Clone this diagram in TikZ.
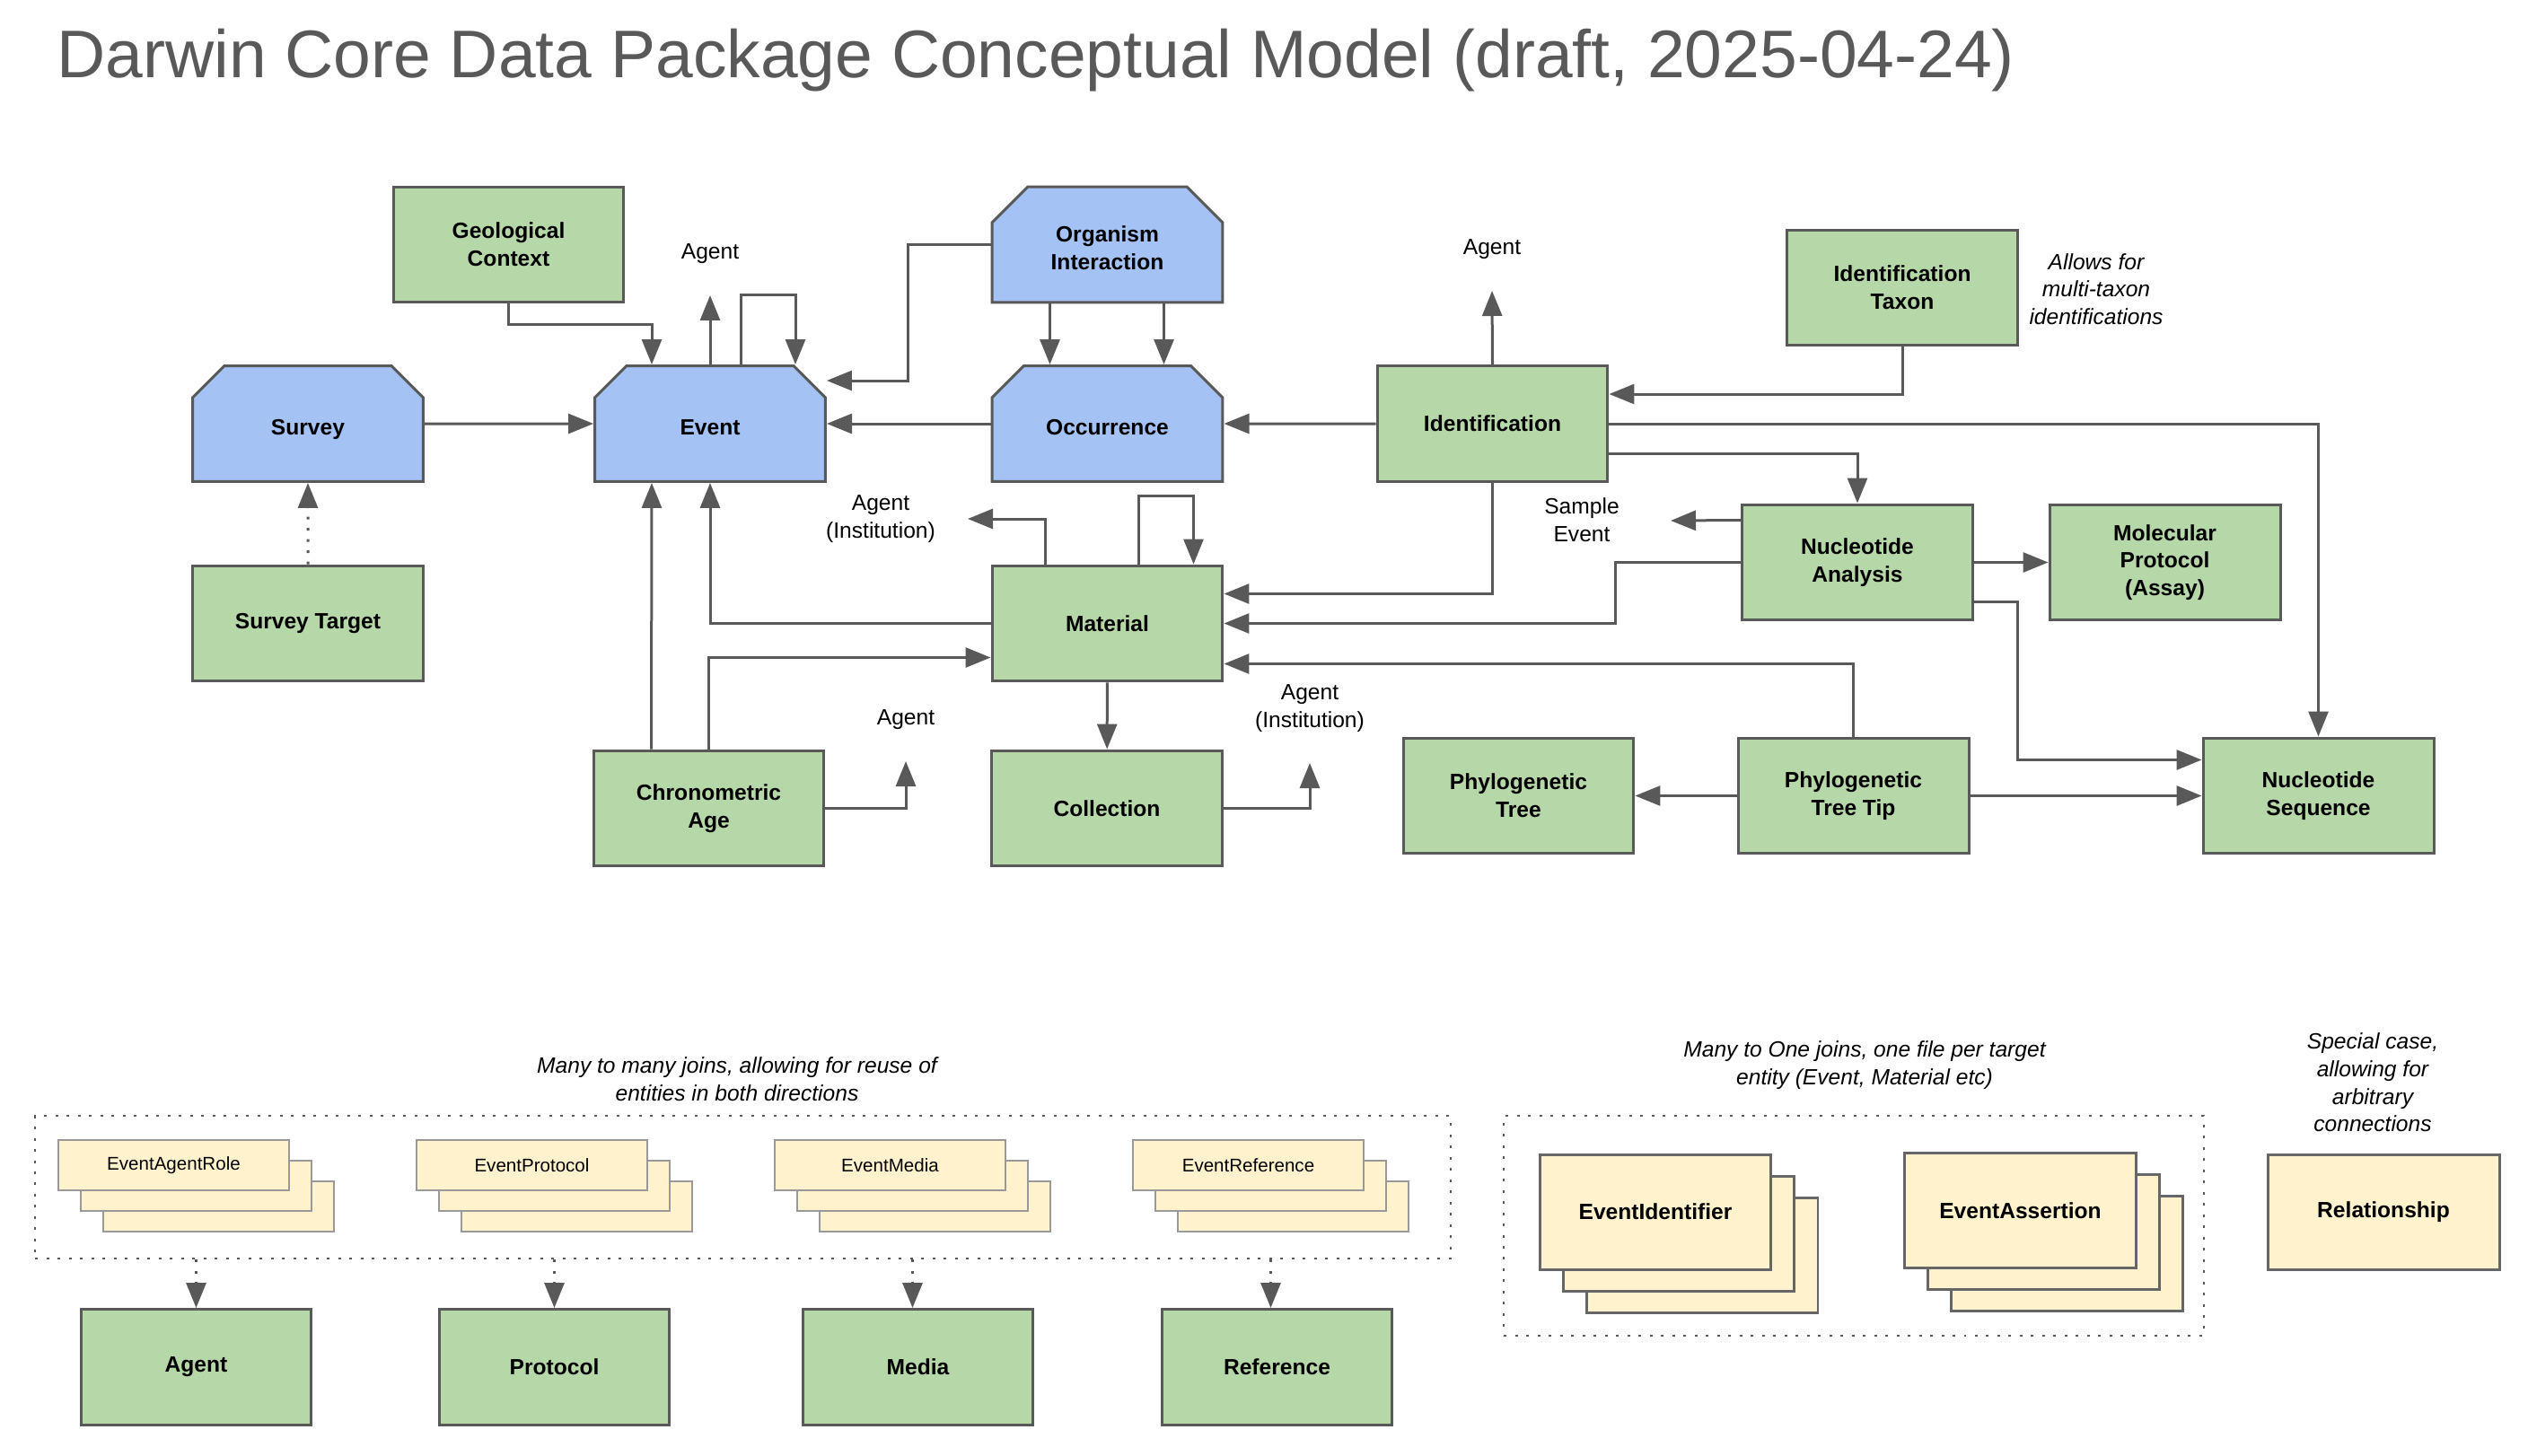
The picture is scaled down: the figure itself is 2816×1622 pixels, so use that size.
\documentclass[tikz,border=0pt]{standalone}
\usepackage{fontspec}
\setmainfont{Liberation Sans}
\usetikzlibrary{arrows.meta,shapes.misc,calc}
\definecolor{boxgreen}{HTML}{B6D7A8}
\definecolor{boxblue}{HTML}{A4C2F4}
\definecolor{boxyellow}{HTML}{FFF2CC}
\definecolor{linegray}{HTML}{595959}
\definecolor{cardgray}{HTML}{999999}
\definecolor{stackgray}{HTML}{666666}
% text of the snipped boxes sits a little lower
\newcommand{\corelabel}[1]{\raisebox{-0.12cm}[\height][\depth]{\begin{tabular}{@{}c@{}}#1\end{tabular}}}
\tikzset{
  entity/.style={draw=linegray, line width=0.06cm, fill=boxgreen, inner sep=0pt,
    minimum width=5.14cm, minimum height=2.58cm, align=center,
    font=\fontsize{14}{17.5}\selectfont\bfseries},
  core/.style={entity, fill=boxblue, chamfered rectangle,
    chamfered rectangle corners={north west,north east},
    chamfered rectangle sep=0.4cm},
  lbl/.style={inner sep=0pt, align=center, font=\fontsize{14}{17.5}\selectfont},
  note/.style={lbl, font=\fontsize{14}{17.5}\selectfont\itshape},
  card/.style={draw=cardgray, line width=0.05cm, fill=boxyellow, inner sep=0pt,
    minimum width=5.14cm, minimum height=1.12cm, font=\fontsize{11.7}{14}\selectfont},
  sheet/.style={draw=stackgray, line width=0.06cm, fill=boxyellow, inner sep=0pt,
    minimum width=5.16cm, minimum height=2.56cm, font=\fontsize{14}{17.5}\selectfont\bfseries},
  dotbox/.style={draw=linegray, line width=0.045cm, dash pattern=on 0.06cm off 0.19cm},
  arr/.style={draw=linegray, line width=0.06cm, -{Triangle[length=0.56cm,width=0.44cm]}},
  dotarr/.style={arr, dash pattern=on 0.06cm off 0.19cm}
}
\begin{document}
\begin{tikzpicture}[x=0.02cm,y=-0.02cm]
\useasboundingbox (0,0) rectangle (2816,1622);
%Title
\node[anchor=base west, inner sep=0pt, text=linegray, font=\fontsize{42.7}{50}\selectfont] (title) at (63,87) {Darwin Core Data Package Conceptual Model (draft, 2025-04-24)};
%Core classes (blue)
\node[core] (survey) at (343,472) {\corelabel{Survey}};
\node[core] (event) at (791,472) {\corelabel{Event}};
\node[core] (orgint) at (1233.5,272.5) {\corelabel{Organism\\Interaction}};
\node[core] (occ) at (1233.5,472) {\corelabel{Occurrence}};
%Other classes (green)
\node[entity] (geo) at (566.5,272.5) {Geological\\Context};
\node[entity] (target) at (343,694.5) {Survey Target};
\node[entity] (ident) at (1662.5,472) {Identification};
\node[entity] (idtaxon) at (2119,320.5) {Identification\\Taxon};
\node[entity] (material) at (1233.5,694.5) {Material};
\node[entity] (nucana) at (2069,626.5) {Nucleotide\\Analysis};
\node[entity] (molprot) at (2411.5,626.5) {Molecular\\Protocol\\(Assay)};
\node[entity] (chrono) at (789.5,900.5) {Chronometric\\Age};
\node[entity] (collection) at (1233,900.5) {Collection};
\node[entity] (phytree) at (1691.5,886.5) {Phylogenetic\\Tree};
\node[entity] (phytip) at (2064.5,886.5) {Phylogenetic\\Tree Tip};
\node[entity] (nucseq) at (2582.5,886.5) {Nucleotide\\Sequence};
%Loose labels
\node[lbl] (agentE) at (791,283) {Agent};
\node[lbl] (agentI) at (1662,278) {Agent};
\node[lbl] (agentM) at (981,578) {Agent\\(Institution)};
\node[lbl] (sample) at (1762,579) {Sample\\Event};
\node[lbl] (agentC) at (1009,802) {Agent};
\node[lbl] (agentCol) at (1459,789) {Agent\\(Institution)};
\node[note] (taxnote) at (2335,322) {Allows for\\multi-taxon\\identifications};
\coordinate (agentEtip) at (791,329);
\coordinate (agentItip) at (1662,324);
\coordinate (agentMtip) at (1078,578);
\coordinate (sampletip) at (1861,580);
\coordinate (agentCtip) at (1009,848);
\coordinate (agentColtip) at (1459,850);
%Arrows around Event
\draw[arr] (geo.south) |- ($(event.north)+(-65,-45)$) -- ($(event.north)+(-65,0)$);
\draw[arr] (event.north) -- (agentEtip);
\draw[arr] ($(event.north)+(34,0)$) -- ++(0,-78) -| ($(event.north)+(95,0)$);
\draw[arr] (survey) -- (event);
\draw[dotarr] (target) -- (survey);
\draw[arr] (orgint.west) -| (1011,424) -- (event.east |- 1011,424);
\draw[arr] (occ) -- (event);
\draw[arr] ($(orgint.south)+(-64,0)$) -- ($(occ.north)+(-64,0)$);
\draw[arr] ($(orgint.south)+(63,0)$) -- ($(occ.north)+(63,0)$);
%Arrows around Identification
\draw[arr] (ident) -- (occ);
\draw[arr] (ident.north) -- (agentItip);
\draw[arr] (idtaxon.south) |- ($(ident.east)+(0,-33)$);
\draw[arr] (ident.east) -| (nucseq.north);
\draw[arr] ($(ident.east)+(0,33)$) -| (nucana.north);
\draw[arr] (ident.south) |- ($(material.east)+(0,-33)$);
%Arrows around Nucleotide Analysis
\draw[arr] ($(nucana.west)+(0,-47)$) -- (sampletip);
\draw[arr] (nucana.west) -- ++(-140,0) |- (material.east);
\draw[arr] (nucana) -- (molprot);
\draw[arr] ($(nucana.east)+(0,44)$) -- ++(48,0) |- ($(nucseq.west)+(0,-40)$);
%Phylogenetic Tree Tip
\draw[arr] (phytip) -- (nucseq);
\draw[arr] (phytip) -- (phytree);
\draw[arr] (phytip.north) |- ($(material.east)+(0,45)$);
%Arrows around Material
\draw[arr] (material.west) -| (event.south);
\draw[arr] ($(chrono.north)+(-64,0)$) -- ($(event.south)+(-65,0)$);
\draw[arr] (chrono.north) |- ($(material.west)+(0,38)$);
\draw[arr] (chrono.east) -| (agentCtip);
\draw[arr] (material) -- (collection);
\draw[arr] (collection.east) -| (agentColtip);
\draw[arr] ($(material.north)+(-69,0)$) |- (agentMtip);
\draw[arr] ($(material.north)+(35,0)$) -- ++(0,-76) -| ($(material.north)+(96,0)$);
%Many to many joins
\node[dotbox, minimum width=31.54cm, minimum height=3.18cm] (manybox) at (827.5,1322.5) {};
\node[note] (manynote) at (821,1202) {Many to many joins, allowing for reuse of\\entities in both directions};
\foreach \nm/\cx/\bx/\txt/\tgt in {agentrole/193.5/218.5/EventAgentRole/Agent,
    protocol/592.5/617.5/EventProtocol/Protocol,
    media/991.5/1022.5/EventMedia/Media,
    reference/1390.5/1422.5/EventReference/Reference}{
  \node[card] (\nm3) at (\cx+50,1344) {};
  \node[card] (\nm2) at (\cx+25,1321) {};
  \node[card] (\nm1) at (\cx,1298) {\txt};
  \node[entity] (\nm box) at (\bx,1523) {\tgt};
  \draw[dotarr] (\nm2.south |- manybox.south) -- (\nm2.south |- \nm box.north);
}
%Many to one joins
\node[dotbox, minimum width=15.6cm, minimum height=4.9cm] (onebox) at (2065,1365.5) {};
\node[note] (onenote) at (2077,1187) {Many to One joins, one file per target\\entity (Event, Material etc)};
\foreach \nm/\cx/\cy/\txt in {eventid/1844/1350/EventIdentifier, eventas/2250.5/1348.5/EventAssertion}{
  \node[sheet] (\nm3) at (\cx+52,\cy+48) {};
  \node[sheet] (\nm2) at (\cx+26,\cy+24) {};
  \node[sheet] (\nm1) at (\cx,\cy) {\txt};
}
%Relationship
\node[note] (relnote) at (2643,1206) {Special case,\\allowing for\\arbitrary\\connections};
\node[sheet] (relationship) at (2655,1350) {Relationship};
\end{tikzpicture}
\end{document}
